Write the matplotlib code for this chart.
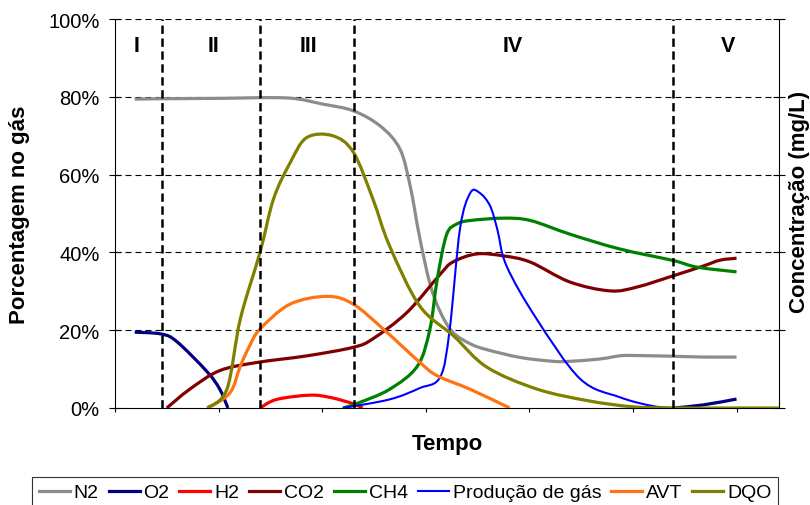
import numpy as np
import matplotlib
matplotlib.use("Agg")
import matplotlib.pyplot as plt
from matplotlib.path import Path
from matplotlib.patches import PathPatch
from matplotlib.lines import Line2D

plt.rcParams["font.family"] = ["Liberation Sans", "DejaVu Sans"]
plt.rcParams["lines.scale_dashes"] = False

# ---- data (time in arbitrary units, values in % of full scale) ----
n2_x = [0.19, 0.45, 1.00, 1.66, 2.01, 2.30, 2.56, 2.75, 2.85, 2.94, 3.04, 3.14, 3.26,
        3.43, 3.59, 3.91, 4.23, 4.39, 4.68, 4.87, 5.00, 5.39, 5.68, 6.00]
n2_y = [79.4, 79.5, 79.6, 79.7, 78.1, 76.4, 72.5, 66.6, 57.0, 44.0, 32.0, 24.7, 19.5,
        16.5, 15.0, 13.0, 12.0, 12.0, 12.6, 13.4, 13.5, 13.3, 13.1, 13.1]

o2_x = [0.19, 0.45, 0.60, 0.89, 1.01, 1.09, np.nan, 5.39, 5.68, 6.00]
o2_y = [19.5, 19.0, 17.0, 9.3, 4.9, 0.0, np.nan, 0.0, 0.8, 2.3]

h2_x = [1.40, 1.56, 1.88, 2.08, 2.30, 2.39]
h2_y = [0.0, 2.2, 3.3, 2.7, 1.1, 0.0]

co2_x = [0.50, 0.72, 1.01, 1.37, 1.85, 2.30, 2.49, 2.82, 3.14, 3.26, 3.49, 3.75, 4.01,
         4.39, 4.78, 5.04, 5.39, 5.68, 5.84, 6.00]
co2_y = [0.0, 4.8, 9.6, 11.7, 13.4, 15.6, 17.8, 24.6, 34.4, 37.5, 39.6, 39.1, 37.5,
         32.4, 30.1, 31.1, 34.0, 36.5, 38.0, 38.5]

ch4_x = [2.20, 2.34, 2.65, 2.92, 3.04, 3.11, 3.20, 3.30, 3.43, 3.75, 4.01, 4.39, 4.87,
         5.39, 5.62, 6.00]
ch4_y = [0.0, 1.2, 4.8, 10.8, 20.3, 33.0, 44.5, 47.3, 48.2, 48.8, 48.2, 44.7, 40.9,
         37.9, 36.2, 35.0]

gas_x = [2.20, 2.65, 2.94, 3.14, 3.23, 3.33, 3.43, 3.52, 3.62, 3.69, 3.78, 4.07, 4.49,
         4.87, 5.19, 5.39]
gas_y = [0.0, 2.2, 5.1, 8.0, 20.0, 46.0, 55.3, 55.3, 52.0, 46.0, 36.5, 22.9, 7.5,
         2.8, 0.5, 0.0]

avt_x = [0.90, 1.11, 1.21, 1.30, 1.40, 1.69, 2.05, 2.30, 2.59, 2.94, 3.11, 3.43, 3.81]
avt_y = [0.0, 3.9, 10.8, 16.0, 20.3, 26.7, 28.7, 26.7, 20.3, 11.8, 8.3, 4.8, 0.0]

dqo_x = [0.89, 1.08, 1.21, 1.40, 1.53, 1.69, 1.85, 2.10, 2.30, 2.49, 2.65, 2.94,
         3.27, 3.59, 4.07, 4.56, 5.00, 5.39, 6.00, 6.41]
dqo_y = [0.0, 4.8, 22.9, 40.0, 53.7, 63.0, 69.5, 70.0, 65.8, 53.7, 41.7, 26.3,
         18.5, 10.5, 4.9, 1.9, 0.3, 0.0, 0.0, 0.0]

labels = ["N2", "O2", "H2", "CO2", "CH4", "Produção de gás", "AVT", "DQO"]
colors = ["#8c8c8c", "#000080", "#ff0000", "#800000", "#008000", "#0000ff", "#ff7410", "#808000"]
widths = [2.3, 2.3, 2.3, 2.3, 2.3, 1.5, 2.3, 2.3]
series = [(n2_x, n2_y), (o2_x, o2_y), (h2_x, h2_y), (co2_x, co2_y), (ch4_x, ch4_y),
          (gas_x, gas_y), (avt_x, avt_y), (dqo_x, dqo_y)]

phase_bounds = [0.454, 1.40, 2.307, 5.386]
phase_names = ["I", "II", "III", "IV", "V"]
phase_label_x = [0.21, 0.955, 1.87, 3.84, 5.92]
y_ticks = [0, 20, 40, 60, 80, 100]


def smooth_path(x, y):
    """Smoothed (Catmull-Rom style Bezier) path through the points, split at NaNs."""
    x = np.asarray(x, float)
    y = np.asarray(y, float)
    idx = np.flatnonzero(~np.isnan(y))
    runs = np.split(idx, np.flatnonzero(np.diff(idx) > 1) + 1)
    verts, codes = [], []
    for r in runs:
        P = np.column_stack([x[r], y[r]])
        Pe = np.vstack([P[0], P, P[-1]])
        verts.append(P[0])
        codes.append(Path.MOVETO)
        for i in range(len(P) - 1):
            p0, p1, p2, p3 = Pe[i], Pe[i + 1], Pe[i + 2], Pe[i + 3]
            verts += [p1 + (p2 - p0) / 6.0, p2 - (p3 - p1) / 6.0, p2]
            codes += [Path.CURVE4] * 3
    return Path(verts, codes)


fig = plt.figure(figsize=(8.1, 5.06), dpi=100)
ax = fig.add_axes([115 / 810, 97 / 506, 664 / 810, 389 / 506])
ax.set_xlim(0, 6.41)
ax.set_ylim(0, 100)

# horizontal dashed grid
for yv in y_ticks[1:]:
    ax.axhline(yv, color="black", lw=0.8, dashes=(4.3, 2.9), zorder=1)

# series
for (sx, sy), c, w in zip(series, colors, widths):
    ax.add_patch(PathPatch(smooth_path(sx, sy), facecolor="none", edgecolor=c, lw=w,
                           capstyle="butt", joinstyle="round", zorder=3))

# phase separators and labels
for xb in phase_bounds:
    ax.axvline(xb, color="black", lw=1.8, dashes=(6.0, 3.3), zorder=5)
for name, xl in zip(phase_names, phase_label_x):
    ax.text(xl, 93.1, name, ha="center", va="center", fontsize=15.5, fontweight="bold")

# axes styling
ax.spines["top"].set_visible(False)
for s in ["left", "right", "bottom"]:
    ax.spines[s].set_linewidth(0.8)
ax.set_yticks(y_ticks)
ax.set_yticklabels([f"{v}%" for v in y_ticks])
ax.tick_params(axis="y", direction="inout", length=8, width=0.8, left=True, right=True,
               labelleft=True, labelright=False, labelsize=14.5, pad=7)
ax.set_xticks(range(7))
ax.set_xticklabels([])
ax.tick_params(axis="x", direction="out", length=3, width=0.8)

fig.text(20 / 810, 1 - 215 / 506, "Porcentagem no gás", rotation=90, ha="center",
         va="center", fontsize=16, fontweight="bold")
fig.text(447 / 810, 1 - 445 / 506, "Tempo", ha="center", va="center", fontsize=16,
         fontweight="bold")
fig.text(800 / 810, 1 - 202 / 506, "Concentração (mg/L)", rotation=90, ha="center",
         va="center", fontsize=16, fontweight="bold")

handles = [Line2D([], [], color=c, lw=w) for c, w in zip(colors, widths)]
leg = fig.legend(handles, labels, loc="upper left", bbox_to_anchor=(32 / 810, 1 - 478 / 506),
                 ncol=8, frameon=True, fancybox=False, edgecolor="black", fontsize=14,
                 handlelength=1.6, handletextpad=0.2, columnspacing=0.5, borderpad=0.35,
                 borderaxespad=0)
leg.get_frame().set_linewidth(0.8)

fig.savefig("out.png", dpi=100)
